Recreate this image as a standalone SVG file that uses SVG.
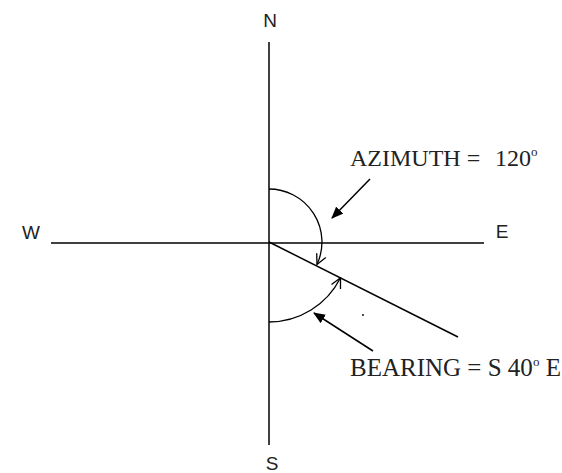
<svg xmlns="http://www.w3.org/2000/svg" width="562" height="473" viewBox="0 0 562 473">
  <style>
    .ln { stroke: #000; stroke-width: 1.5; fill: none; }
    .arc { stroke: #000; stroke-width: 1.3; fill: none; }
    .sans { font-family: "Liberation Sans", Arial, sans-serif; font-size: 19px; fill: #222; }
    .serif { font-family: "Liberation Serif", "Times New Roman", serif; font-size: 24px; fill: #222; }
    .sup { font-size: 13px; }
  </style>
  <defs>
    <marker id="open" viewBox="0 0 12 12" refX="11" refY="6" markerWidth="12" markerHeight="12" markerUnits="userSpaceOnUse" orient="auto">
      <path d="M1,1 L11,6 L1,11" fill="none" stroke="#000" stroke-width="1.3"/>
    </marker>
    <marker id="solid" viewBox="0 0 12 10" refX="11" refY="5" markerWidth="12" markerHeight="10" markerUnits="userSpaceOnUse" orient="auto">
      <path d="M0,0 L12,5 L0,10 Z" fill="#000"/>
    </marker>
  </defs>
  <rect width="562" height="473" fill="#fff"/>
  <g id="connectors">
    <line class="ln" x1="269" y1="42" x2="269" y2="445"/>
    <line class="ln" x1="51" y1="243" x2="484" y2="243"/>
    <line class="ln" x1="269" y1="242" x2="458" y2="337"/>
    <path class="arc" d="M269,189 A53,53 0 0 1 317,264.4" marker-end="url(#open)"/>
    <path class="arc" d="M269,322 A80,80 0 0 0 340.5,277.8" marker-end="url(#open)"/>
    <line class="ln" x1="370" y1="179" x2="332" y2="218" marker-end="url(#solid)"/>
    <line class="ln" x1="373" y1="351" x2="314" y2="313" marker-end="url(#solid)"/>
    <circle cx="363" cy="315" r="0.9" fill="#000"/>
  </g>
  <g id="label-n"><text class="sans" x="270" y="27" text-anchor="middle">N</text></g>
  <g id="label-s"><text class="sans" x="272" y="470" text-anchor="middle">S</text></g>
  <g id="label-w"><text class="sans" x="31" y="239" text-anchor="middle">W</text></g>
  <g id="label-e"><text class="sans" x="502" y="238" text-anchor="middle">E</text></g>
  <g id="azimuth"><text class="serif" x="350" y="166">AZIMUTH =<tspan x="495">120</tspan><tspan class="sup" dy="-10">o</tspan></text></g>
  <g id="bearing"><text class="serif" x="350" y="376" style="font-size:25px">BEARING = S 40<tspan class="sup" dy="-10">o</tspan><tspan dy="10"> E</tspan></text></g>
</svg>
